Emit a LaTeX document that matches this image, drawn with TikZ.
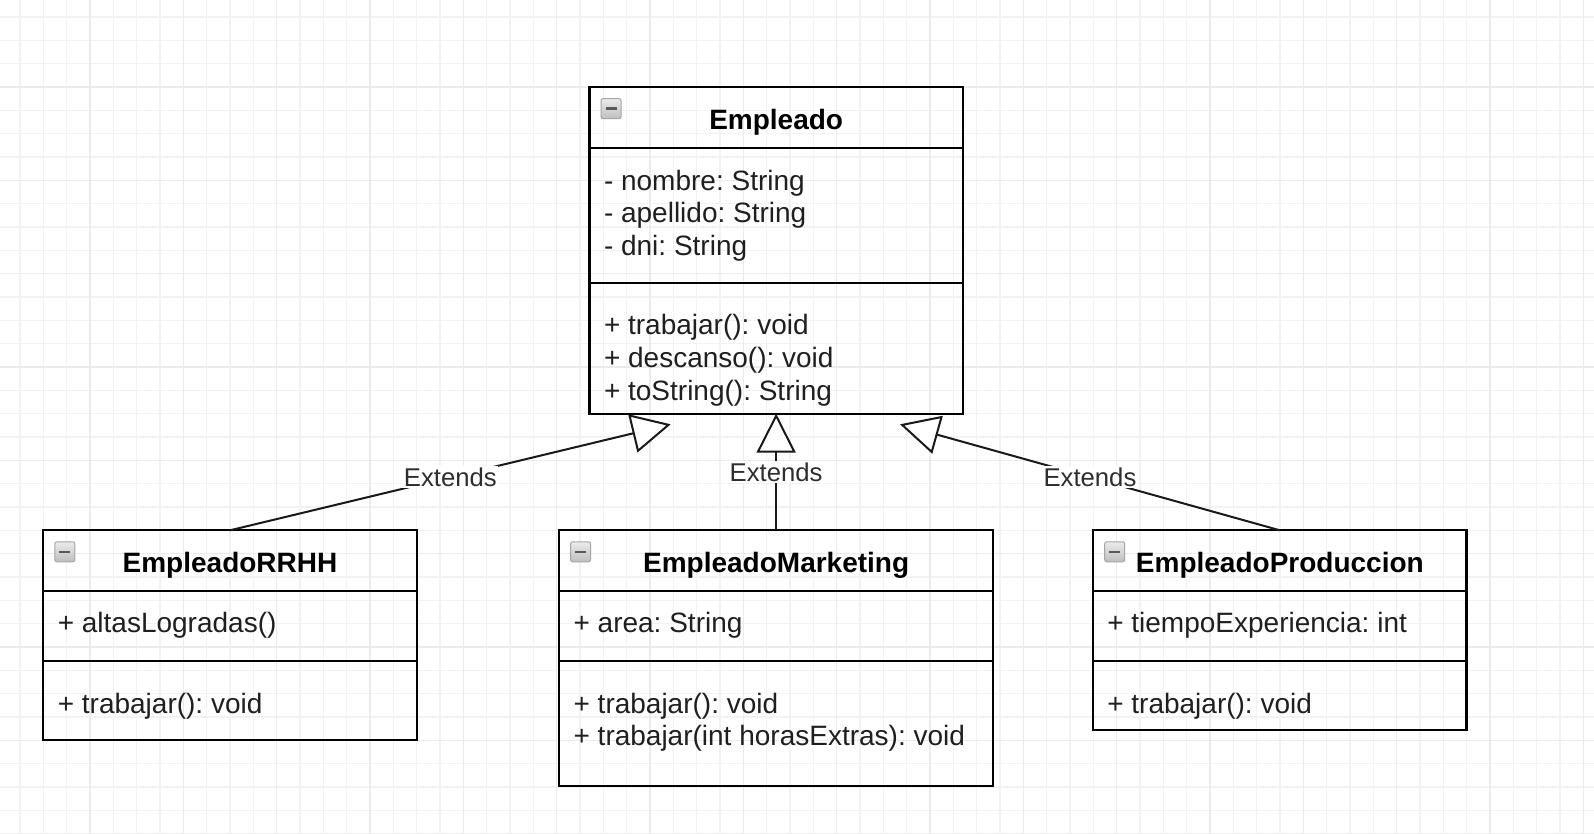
\documentclass[tikz,border=0pt]{standalone}
\usepackage{fontspec}
\setmainfont{Liberation Sans}
\usepackage{tikz}
\usetikzlibrary{positioning,arrows.meta}
\frenchspacing

\begin{document}
\begin{tikzpicture}
[x=1pt, y=-1pt,
headnode/.style={rectangle, draw, line width=2.2pt, minimum width=373.3pt, minimum height=60.7pt, inner sep=0pt, outer sep=0pt, text height=23.6pt, text depth=0pt, font=\fontsize{28}{32.6}\selectfont\bfseries},
partnode/.style={rectangle, draw, line width=2.2pt, minimum width=373.3pt, inner sep=0pt, outer sep=0pt},
membernode/.style={anchor=base west, inner sep=0pt, text=black!88, font=\fontsize{28}{32.6}\selectfont},
togglenode/.style={rectangle, rounded corners=2pt, draw=black!35, line width=1pt, top color=black!8, bottom color=black!25, minimum size=20pt, inner sep=0pt,
  path picture={\draw[line width=2.6pt, black!65] ([xshift=4.5pt]path picture bounding box.west) -- ([xshift=-4.5pt]path picture bounding box.east);}},
extendsnode/.style={fill=white, inner sep=1.5pt, text=black!82, font=\fontsize{25.7}{30}\selectfont},
extendsline/.style={line width=2pt, black!90, -{Triangle[length=39pt, width=39pt, fill=white]}},
minorgrid/.style={black!5, line width=1.2pt},
majorgrid/.style={black!8, line width=1.4pt},
]
\path[use as bounding box, fill=white] (0,0) rectangle (1594,834);

\begin{scope}
\clip (0,0) rectangle (1594,834);
\begin{scope}[shift={(-3.33,-6.33)}]
\draw[minorgrid, xstep=23.333pt, ystep=23.333pt] (0,850) grid (1610,0);
\draw[majorgrid, xstep=93.333pt, ystep=93.333pt] (0,850) grid (1610,0);
\end{scope}
\end{scope}

\node[headnode] (emp) at (776.15,117.55) {Empleado};
\node[partnode, minimum height=135pt] (empa) [below=0pt of emp] {};
\node[partnode, minimum height=130.7pt] (empm) [below=0pt of empa] {};
\node[togglenode, below right=11pt and 11pt of emp.north west] (empt) {};
\node[membernode] (ea1) at (603.8,190.3) {- nombre: String};
\node[membernode] (ea2) at (603.8,222.9) {- apellido: String};
\node[membernode] (ea3) at (603.8,255.5) {- dni: String};
\node[membernode] (em1) at (603.8,334.9) {+ trabajar(): void};
\node[membernode] (em2) at (603.8,367.5) {+ descanso(): void};
\node[membernode] (em3) at (603.8,400.1) {+ toString(): String};

\node[headnode] (rh) at (230,560.65) {EmpleadoRRHH};
\node[partnode, minimum height=70pt] (rha) [below=0pt of rh] {};
\node[partnode, minimum height=79.3pt] (rhm) [below=0pt of rha] {};
\node[togglenode, below right=11pt and 11pt of rh.north west] (rht) {};
\node[membernode] (ra1) at (57.6,632.7) {+ altasLogradas()};
\node[membernode] (rm1) at (57.6,713) {+ trabajar(): void};

\node[headnode, minimum width=434.1pt] (mk) at (776.15,560.65) {EmpleadoMarketing};
\node[partnode, minimum width=434.1pt, minimum height=70pt] (mka) [below=0pt of mk] {};
\node[partnode, minimum width=434.1pt, minimum height=124.8pt] (mkm) [below=0pt of mka] {};
\node[togglenode, below right=11pt and 11pt of mk.north west] (mkt) {};
\node[membernode] (ka1) at (573.4,632.7) {+ area: String};
\node[membernode] (km1) at (573.4,713) {+ trabajar(): void};
\node[membernode] (km2) at (573.4,745.6) {+ trabajar(int horasExtras): void};

\node[headnode] (pr) at (1279.85,560.65) {EmpleadoProduccion};
\node[partnode, minimum height=70pt] (pra) [below=0pt of pr] {};
\node[partnode, minimum height=69pt] (prm) [below=0pt of pra] {};
\node[togglenode, below right=11pt and 11pt of pr.north west] (prt) {};
\node[membernode] (pa1) at (1107.1,632.7) {+ tiempoExperiencia: int};
\node[membernode] (pm1) at (1107.1,713) {+ trabajar(): void};

\coordinate (tipl) at (670.7,424.3);
\coordinate (tipr) at (900,424.3);
\draw[extendsline] (rh.north) -- node[extendsnode] {Extends} (tipl);
\draw[extendsline] (mk.north) -- node[extendsnode] {Extends} (empm.south);
\draw[extendsline] (pr.north) -- node[extendsnode] {Extends} (tipr);
\end{tikzpicture}
\end{document}
